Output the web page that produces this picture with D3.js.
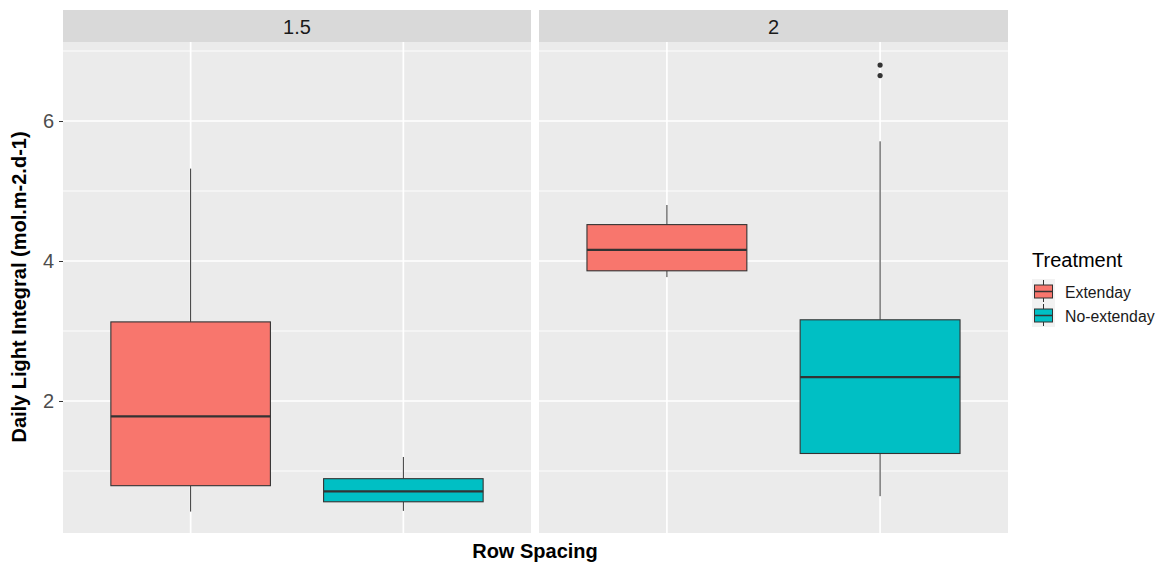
<!DOCTYPE html>
<html>
<head>
<meta charset="utf-8">
<script src="https://cdn.jsdelivr.net/npm/d3@7"></script>
<style>
  body { margin: 0; background: #fff; }
  text { font-family: "Liberation Sans", Arial, sans-serif; }
</style>
</head>
<body>
<div id="chart"></div>
<script>
// facets and groups
var facets = ["1.5", "2"];
var treatments = ["Extenday", "No-extenday"];
var colors = ["#F8766D", "#00BFC4"];

// box stats per facet: [lower whisker, q1, median, q3, upper whisker]
var stats15 = [
    [0.42, 0.79, 1.78, 3.13, 5.32],
    [0.43, 0.56, 0.71, 0.89, 1.20]
];
var stats2 = [
    [3.77, 3.86, 4.16, 4.52, 4.80],
    [0.64, 1.25, 2.34, 3.16, 5.71]
];
var outliers15 = [[], []];
var outliers2 = [[], [6.65, 6.80]];

var yTicks = [2, 4, 6];
var yMinor = [1, 3, 5, 7];

var svgWidth = 1158;
var svgHeight = 565;

var svg = d3.select("#chart").append("svg")
    .attr("width", svgWidth)
    .attr("height", svgHeight);

var panelTop = 42, panelBottom = 533;
var stripTop = 10;
var panels = [{x0: 63, x1: 531}, {x0: 539, x1: 1008}];
var allStats = [stats15, stats2];
var allOut = [outliers15, outliers2];

var y = d3.scaleLinear()
    .domain([0.114, 7.129])
    .range([panelBottom, panelTop]);

panels.forEach(function(p, i) {
    var g = svg.append("g");

    // ggplot discrete x: centers at 0.6 and 1.6 of a 2.2-unit range
    var w = p.x1 - p.x0;
    var x = d3.scaleLinear().domain([0.4, 2.6]).range([p.x0, p.x1]);
    var cx = function(k) { return x(k + 1); };
    var bw = x(1.75) - x(1);

    g.append("rect")
        .attr("x", p.x0).attr("y", panelTop)
        .attr("width", w).attr("height", panelBottom - panelTop)
        .attr("fill", "#EBEBEB");

    // minor grid
    g.selectAll(".minor").data(yMinor).enter().append("line")
        .attr("x1", p.x0).attr("x2", p.x1)
        .attr("y1", d => y(d)).attr("y2", d => y(d))
        .attr("stroke", "#fff").attr("stroke-width", 0.9);
    // major grid
    g.selectAll(".major").data(yTicks).enter().append("line")
        .attr("x1", p.x0).attr("x2", p.x1)
        .attr("y1", d => y(d)).attr("y2", d => y(d))
        .attr("stroke", "#fff").attr("stroke-width", 1.7);
    g.selectAll(".vmajor").data(treatments).enter().append("line")
        .attr("x1", (d, k) => cx(k)).attr("x2", (d, k) => cx(k))
        .attr("y1", panelTop).attr("y2", panelBottom)
        .attr("stroke", "#fff").attr("stroke-width", 1.7);

    // strip
    svg.append("rect")
        .attr("x", p.x0).attr("y", stripTop)
        .attr("width", w).attr("height", panelTop - stripTop)
        .attr("fill", "#D9D9D9");
    svg.append("text")
        .attr("x", (p.x0 + p.x1) / 2).attr("y", 33.5)
        .attr("text-anchor", "middle")
        .attr("font-size", "20px")
        .attr("fill", "#1A1A1A")
        .text(facets[i]);

    // boxes
    allStats[i].forEach(function(s, k) {
        var c = cx(k);
        g.append("line")
            .attr("x1", c).attr("x2", c)
            .attr("y1", y(s[0])).attr("y2", y(s[1]))
            .attr("stroke", "#333").attr("stroke-width", 1);
        g.append("line")
            .attr("x1", c).attr("x2", c)
            .attr("y1", y(s[3])).attr("y2", y(s[4]))
            .attr("stroke", "#333").attr("stroke-width", 1);
        g.append("rect")
            .attr("x", c - bw / 2).attr("y", y(s[3]))
            .attr("width", bw).attr("height", y(s[1]) - y(s[3]))
            .attr("fill", colors[k])
            .attr("stroke", "#333").attr("stroke-width", 1.1);
        g.append("line")
            .attr("x1", c - bw / 2).attr("x2", c + bw / 2)
            .attr("y1", y(s[2])).attr("y2", y(s[2]))
            .attr("stroke", "#333").attr("stroke-width", 2.2);
        g.selectAll(null).data(allOut[i][k]).enter().append("circle")
            .attr("cx", c).attr("cy", d => y(d))
            .attr("r", 2.6).attr("fill", "#333");
    });

    // y axis on first panel
    if (i === 0) {
        var yAxis = d3.axisLeft(y).tickValues(yTicks).tickFormat(d3.format("d"))
            .tickSize(4).tickPadding(5);
        var ax = svg.append("g")
            .attr("transform", `translate(${p.x0}, 0)`)
            .call(yAxis);
        ax.select(".domain").remove();
        ax.selectAll("line").attr("stroke", "#333");
        ax.selectAll("text")
            .attr("font-size", "20px")
            .attr("fill", "#4D4D4D")
            .style("font-family", "Liberation Sans, Arial, sans-serif");
    }
});

// axis titles
svg.append("text")
    .attr("x", 535).attr("y", 558)
    .attr("text-anchor", "middle")
    .attr("font-size", "20px")
    .attr("font-weight", "bold")
    .text("Row Spacing");

svg.append("text")
    .attr("transform", "translate(26, 287) rotate(-90)")
    .attr("text-anchor", "middle")
    .attr("font-size", "20px")
    .attr("font-weight", "bold")
    .text("Daily Light Integral (mol.m-2.d-1)");

// legend
var legend = svg.append("g").attr("transform", "translate(1032, 0)");
legend.append("text")
    .attr("x", 0).attr("y", 267)
    .attr("font-size", "20px")
    .attr("fill", "#000")
    .text("Treatment");

treatments.forEach(function(t, k) {
    var ky = 279 + k * 24;
    var lg = legend.append("g").attr("transform", `translate(0, ${ky})`);
    lg.append("rect").attr("width", 23).attr("height", 24).attr("fill", "#F2F2F2");
    lg.append("line").attr("x1", 11.5).attr("x2", 11.5).attr("y1", 1).attr("y2", 23)
        .attr("stroke", "#333");
    lg.append("rect").attr("x", 2.5).attr("y", 6).attr("width", 18).attr("height", 13)
        .attr("fill", colors[k]).attr("stroke", "#333").attr("stroke-width", 1);
    lg.append("line").attr("x1", 2.5).attr("x2", 20.5).attr("y1", 12.5).attr("y2", 12.5)
        .attr("stroke", "#333").attr("stroke-width", 1.5);
    lg.append("text")
        .attr("x", 33).attr("y", 18.5)
        .attr("font-size", "15.8px")
        .attr("fill", "#1A1A1A")
        .text(t);
});
</script>
</body>
</html>
